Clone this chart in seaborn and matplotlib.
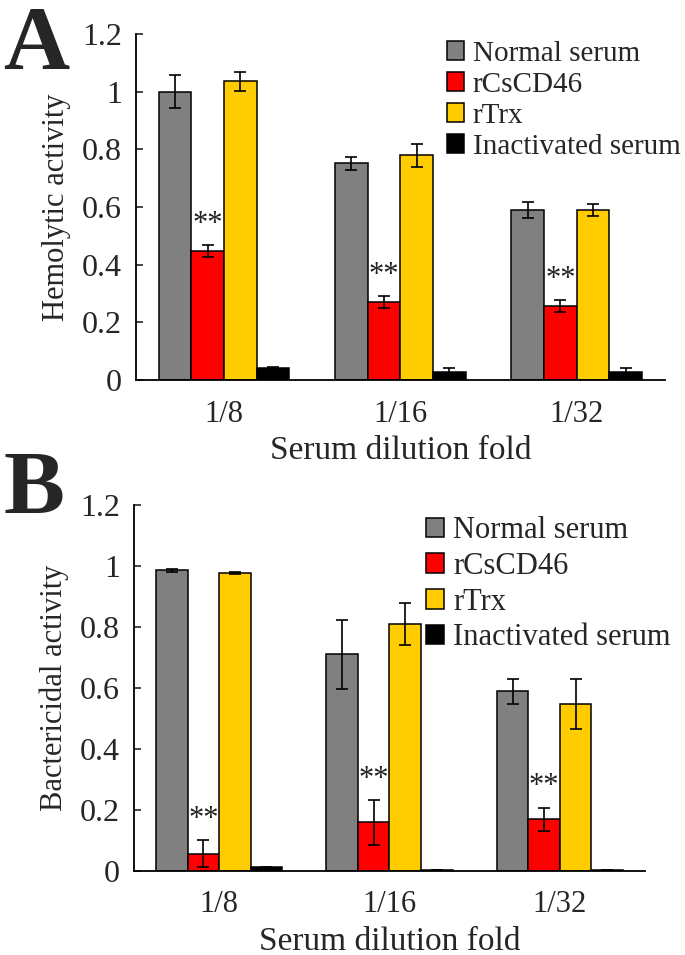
import pandas as pd
import matplotlib.pyplot as plt
import seaborn as sns
from matplotlib.patches import Patch

# Datos
categorias = ["1/8", "1/16", "1/32"]
grupos = ["Normal serum", "rCsCD46", "rTrx", "Inactivated serum"]
colores = ["#808080", "#ff0000", "#ffcc00", "#000000"]

# Panel A: actividad hemolitica
hemo_normal = [1.00, 0.752, 0.590]
hemo_cd46 = [0.447, 0.270, 0.258]
hemo_trx = [1.037, 0.780, 0.590]
hemo_inact = [0.043, 0.029, 0.029]
hemo_normal_err = [0.058, 0.022, 0.027]
hemo_cd46_err = [0.021, 0.021, 0.021]
hemo_trx_err = [0.033, 0.040, 0.022]
hemo_inact_err = [0.004, 0.013, 0.012]

# Panel B: actividad bactericida
bact_normal = [0.986, 0.711, 0.589]
bact_cd46 = [0.057, 0.160, 0.170]
bact_trx = [0.977, 0.810, 0.548]
bact_inact = [0.012, 0.003, 0.003]
bact_normal_err = [0.005, 0.113, 0.042]
bact_cd46_err = [0.045, 0.074, 0.038]
bact_trx_err = [0.003, 0.070, 0.081]
bact_inact_err = [0.002, 0.0, 0.0]

sns.set_style("white")
plt.rcParams['font.family'] = ['Liberation Serif', 'DejaVu Serif']


def graficar_panel(ax, medias, errores, ylabel, leg_anchor, leg_size, leg_sep):
    filas = []
    for g, vals in zip(grupos, medias):
        for c, v in zip(categorias, vals):
            filas.append({"Dilucion": c, "Valor": v, "Grupo": g})
    df = pd.DataFrame(filas)

    sns.barplot(data=df, x="Dilucion", y="Valor", hue="Grupo", order=categorias,
                hue_order=grupos, palette=colores, saturation=1, width=0.74,
                errorbar=None, edgecolor="black", linewidth=1.1, legend=False, ax=ax)

    # Barras de error y asteriscos
    for i, (cont, err) in enumerate(zip(ax.containers, errores)):
        for barra, e in zip(cont, err):
            x = barra.get_x() + barra.get_width() / 2
            h = barra.get_height()
            ax.errorbar(x, h, yerr=e, fmt="none", ecolor="black", elinewidth=1.2,
                        capsize=4.5, capthick=1.2)
            if i == 1:
                ax.text(x, h + e + 0.02, "**", ha="center", va="bottom",
                        fontsize=22, color="#222222")

    ax.set_xlim(-0.5, 2.5)
    ax.set_ylim(0, 1.2)
    yt = [0, 0.2, 0.4, 0.6, 0.8, 1.0, 1.2]
    ax.set_yticks(yt)
    ax.set_yticklabels([f"{v:g}" for v in yt])
    ax.set_xticks([0.5, 1.5, 2.5], minor=True)
    ax.tick_params(axis="x", which="major", length=0, pad=14, labelsize=22)
    ax.tick_params(axis="x", which="minor", direction="in", length=7, width=1.2)
    ax.tick_params(axis="y", direction="in", length=5, width=1.2, pad=10, labelsize=23, left=True)
    for s in ["top", "right"]:
        ax.spines[s].set_visible(False)
    for s in ["left", "bottom"]:
        ax.spines[s].set_linewidth(1.3)
        ax.spines[s].set_color("black")
    ax.set_xlabel("Serum dilution fold", fontsize=24, labelpad=5)
    ax.set_ylabel(ylabel, fontsize=22, labelpad=8)

    handles = [Patch(facecolor=c, edgecolor="black", linewidth=1.1) for c in colores]
    ax.legend(handles, grupos, loc="upper right", bbox_to_anchor=leg_anchor,
              frameon=False, fontsize=leg_size, handlelength=0.6, handleheight=0.6,
              handletextpad=0.3, labelspacing=leg_sep, borderpad=0, borderaxespad=0)


fig = plt.figure(figsize=(6.85, 9.55), dpi=100)
ax_a = fig.add_axes([0.1985, 0.602, 0.772, 0.3623])
ax_b = fig.add_axes([0.1956, 0.088, 0.746, 0.383])

graficar_panel(ax_a,
               [hemo_normal, hemo_cd46, hemo_trx, hemo_inact],
               [hemo_normal_err, hemo_cd46_err, hemo_trx_err, hemo_inact_err],
               "Hemolytic activity", (1.03, 0.98), 21, 0.17)
graficar_panel(ax_b,
               [bact_normal, bact_cd46, bact_trx, bact_inact],
               [bact_normal_err, bact_cd46_err, bact_trx_err, bact_inact_err],
               "Bactericidal activity", (1.05, 0.97), 22, 0.22)

fig.text(0.005, 0.928, "A", fontsize=66, fontweight="bold", ha="left", va="baseline")
fig.text(0.005, 0.462, "B", fontsize=66, fontweight="bold", ha="left", va="baseline")

fig.savefig("out.png", dpi=100)
plt.close(fig)
